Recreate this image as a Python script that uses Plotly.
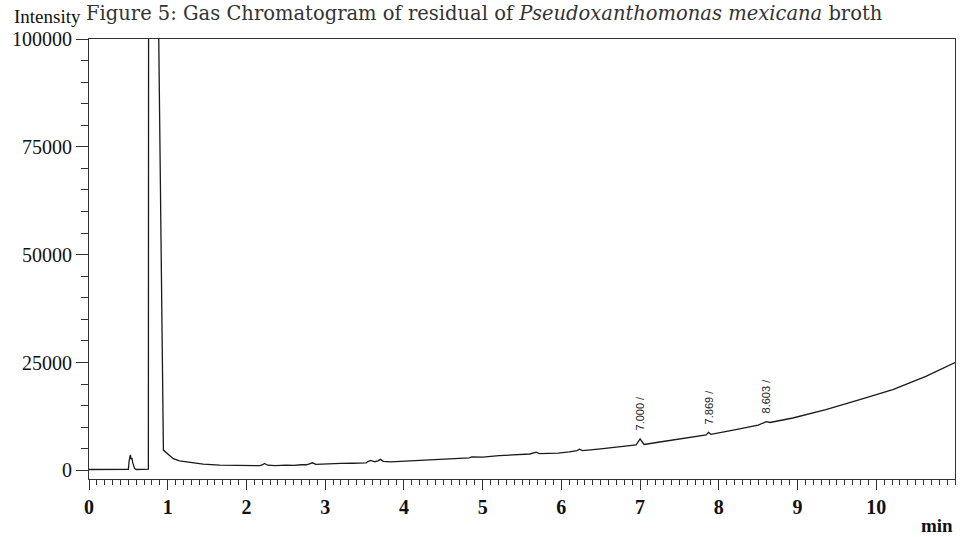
import plotly.graph_objects as go

# Retention time (min) and detector intensity
time_min = [0, 0.50, 0.51, 0.525, 0.535, 0.545, 0.555, 0.565, 0.58, 0.60, 0.75, 0.754, 0.758, 0.855,
            0.945, 0.97, 1.0, 1.07, 1.15, 1.25, 1.32, 1.45, 1.66, 1.9, 2.17, 2.2, 2.23, 2.27, 2.37,
            2.5, 2.6, 2.7, 2.76, 2.8, 2.84, 2.88, 3.01, 3.2, 3.35, 3.52, 3.55, 3.58, 3.63, 3.67, 3.70,
            3.74, 3.83, 4.0, 4.28, 4.5, 4.83, 4.86, 5.0, 5.21, 5.4, 5.6, 5.66, 5.68, 5.72, 5.96, 6.1,
            6.2, 6.23, 6.27, 6.5, 6.82, 6.95, 7.0, 7.05, 7.25, 7.5, 7.84, 7.869, 7.9, 8.2, 8.5, 8.603,
            8.65, 8.94, 9.36, 9.79, 10.21, 10.63, 11.0]
intensity = [200, 250, 2200, 3600, 2600, 2900, 1800, 1000, 400, 200, 200, 300, 150000, 150000,
             4700, 4300, 3800, 2700, 2200, 1900, 1700, 1450, 1200, 1100, 1100, 1250, 1600, 1200, 1100,
             1200, 1150, 1300, 1300, 1500, 1750, 1400, 1550, 1600, 1650, 1750, 2100, 2300, 2000, 2200, 2550,
             2100, 1950, 2100, 2350, 2550, 2900, 3100, 3050, 3400, 3550, 3800, 4100, 4200, 3900, 4000, 4300,
             4600, 4900, 4600, 5000, 5570, 5900, 7300, 6000, 6580, 7300, 8200, 8800, 8350, 9400, 10500, 11300,
             11100, 12140, 14070, 16390, 18700, 21800, 25000]

peak_times = [7.000, 7.869, 8.603]
peak_heights = [7300, 8800, 11300]
peak_labels = ["7.000 /", "7.869 /", "8.603 /"]

x_ticks = list(range(0, 11))
y_ticks = [0, 25000, 50000, 75000, 100000]

fig = go.Figure()
fig.add_trace(go.Scatter(x=time_min, y=intensity, mode="lines",
                         line=dict(color="#1a1a1a", width=1.3), hoverinfo="skip", showlegend=False))

for t, h, lab in zip(peak_times, peak_heights, peak_labels):
    fig.add_annotation(x=t, y=h, text=lab, textangle=-90, showarrow=False,
                       xanchor="center", yanchor="bottom", yshift=6,
                       font=dict(family="Liberation Sans", size=11, color="#222"))

fig.add_annotation(xref="paper", yref="paper", x=0.4565, y=1.0, yshift=39, xanchor="center", yanchor="top",
                   text="Figure 5: Gas Chromatogram of residual of <i>Pseudoxanthomonas mexicana</i> broth",
                   showarrow=False, font=dict(family="DejaVu Serif", size=19.5, color="#333"))
fig.add_annotation(xref="paper", yref="paper", x=-0.0478, y=1.0, yshift=23, xanchor="center", yanchor="middle",
                   text="Intensity", showarrow=False,
                   font=dict(family="Liberation Serif", size=19, color="#111"))
fig.add_annotation(xref="paper", yref="paper", x=1.0, y=0.0, yshift=-46, xanchor="right", yanchor="middle",
                   text="<b>min</b>", showarrow=False,
                   font=dict(family="Liberation Serif", size=19, color="#111"))

fig.update_layout(
    width=960, height=537,
    margin=dict(l=89, r=5, t=39, b=58, autoexpand=False),
    paper_bgcolor="white", plot_bgcolor="white",
    xaxis=dict(range=[0, 11], tickvals=x_ticks, ticks="outside", ticklen=10, tickcolor="#333",
               showline=True, linecolor="#333", linewidth=1, mirror=True, showgrid=False, zeroline=False,
               automargin=False,
               tickfont=dict(family="Liberation Serif", size=20, color="#111", weight="bold"),
               minor=dict(dtick=0.1, tick0=0, ticks="outside", ticklen=5, tickcolor="#333")),
    yaxis=dict(range=[-2000, 100000], tickvals=y_ticks, tickformat="d", ticks="outside", ticklen=12,
               tickcolor="#333", showline=True, linecolor="#333", linewidth=1, mirror=True,
               showgrid=False, zeroline=False, automargin=False,
               tickfont=dict(family="Liberation Serif", size=20, color="#111"),
               minor=dict(dtick=5000, tick0=0, ticks="outside", ticklen=7, tickcolor="#333")),
)

fig.write_html("out.html", config={"displayModeBar": False},
               post_script="document.body.style.margin='0';document.body.style.overflow='hidden';")
